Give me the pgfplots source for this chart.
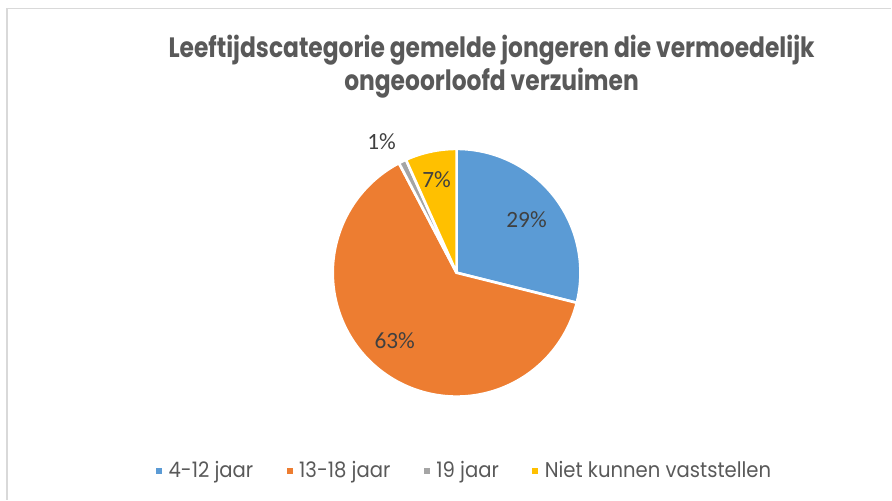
\documentclass[border=0pt]{standalone}
\usepackage{pgfplots}
\pgfplotsset{compat=1.18}
\usepackage{fontspec}
\setmainfont{Carlito}
\newfontfamily\titlefont[FakeStretch=0.835]{Poppins}
\newfontfamily\legfont[FakeStretch=0.92]{Poppins}
\definecolor{cblue}{HTML}{5B9BD5}
\definecolor{corange}{HTML}{ED7D31}
\definecolor{cgrey}{HTML}{A5A5A5}
\definecolor{cyellow}{HTML}{FFC000}
\definecolor{ctitle}{HTML}{595959}
\definecolor{clabel}{HTML}{404040}
\definecolor{cframe}{HTML}{D9D9D9}
% shares (percent)
\def\vA{28.9}\def\vB{63.4}\def\vC{1.0}\def\vD{6.7}
\pgfmathsetmacro\aA{90}
\pgfmathsetmacro\aB{\aA-3.6*\vA}
\pgfmathsetmacro\aC{\aB-3.6*\vB}
\pgfmathsetmacro\aD{\aC-3.6*\vC}
\pgfmathsetmacro\aE{\aD-3.6*\vD}
\def\cx{457}\def\cy{227}\def\rr{124}
\begin{document}
\begin{tikzpicture}
\begin{axis}[
  width=669pt, height=375pt, scale only axis,
  xmin=0, xmax=892, ymin=0, ymax=500,
  hide axis, clip=false,
  legend image code/.code={\path[#1,draw=none] (0pt,-2.25pt) rectangle (4.5pt,2.25pt);},
  legend style={at={(axis cs:464,29)}, anchor=center, draw=none, fill=none,
    legend columns=4, font=\legfont\fontsize{16pt}{19pt}\selectfont, text=ctitle,
    /tikz/every odd column/.append style={column sep=5pt},
    /tikz/every even column/.append style={column sep=25pt},
    nodes={inner sep=0pt, outer sep=0pt}},
]
\path (axis cs:0,0) rectangle (axis cs:892,500);
\draw[cframe, line width=1.2pt] (axis cs:7,0) -- (axis cs:7,491.3) -- (axis cs:892,491.3);
\addplot[fill=cblue, draw=white, line width=2pt, line join=round, domain=\aB:\aA, samples=90, variable=\t]
  ({\cx+\rr*cos(\t)}, {\cy+\rr*sin(\t)}) -- (axis cs:\cx,\cy) -- cycle;
\addlegendentry{4-12 jaar}
\addplot[fill=corange, draw=white, line width=2pt, line join=round, domain=\aC:\aB, samples=160, variable=\t]
  ({\cx+\rr*cos(\t)}, {\cy+\rr*sin(\t)}) -- (axis cs:\cx,\cy) -- cycle;
\addlegendentry{13-18 jaar}
\addplot[fill=cgrey, draw=white, line width=2pt, line join=round, domain=\aD:\aC, samples=5, variable=\t]
  ({\cx+\rr*cos(\t)}, {\cy+\rr*sin(\t)}) -- (axis cs:\cx,\cy) -- cycle;
\addlegendentry{19 jaar}
\addplot[fill=cyellow, draw=white, line width=2pt, line join=round, domain=\aE:\aD, samples=25, variable=\t]
  ({\cx+\rr*cos(\t)}, {\cy+\rr*sin(\t)}) -- (axis cs:\cx,\cy) -- cycle;
\addlegendentry{Niet kunnen vaststellen}
\node[font=\titlefont\bfseries\fontsize{21pt}{25pt}\selectfont, text=ctitle, anchor=base] at (axis cs:492,442) {Leeftijdscategorie gemelde jongeren die vermoedelijk};
\node[font=\titlefont\bfseries\fontsize{21pt}{25pt}\selectfont, text=ctitle, anchor=base] at (axis cs:492,409) {ongeoorloofd verzuimen};
\begin{scope}[every node/.style={font=\fontsize{17.5pt}{20pt}\selectfont, text=clabel}]
\node at (axis cs:527,280) {29\%};
\node at (axis cs:395,159) {63\%};
\node at (axis cs:437,320) {7\%};
\node at (axis cs:382,358) {1\%};
\end{scope}
\end{axis}
\end{tikzpicture}
\end{document}
